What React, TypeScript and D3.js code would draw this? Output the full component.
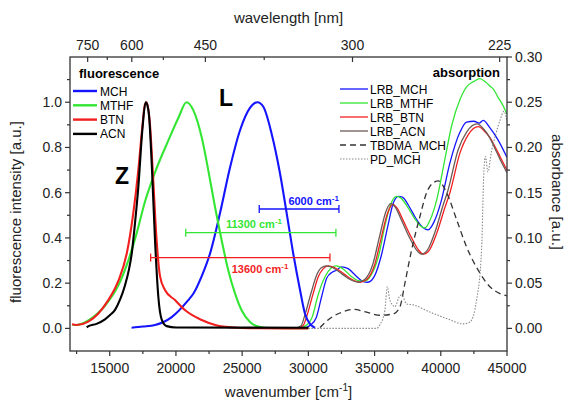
import React from 'react';
import * as d3 from 'd3';

type Pt = [number, number];

// fluorescence spectra [wavenumber cm-1, normalised intensity]
const flMCH: Pt[] = [
  [16650, 0.003], [17500, 0.008], [18420, 0.015], [19680, 0.05], [20930, 0.125], [21310, 0.153],
  [21940, 0.23], [22570, 0.33], [23330, 0.51], [24080, 0.71], [24840, 0.876], [25590, 0.975],
  [26150, 1.0], [26600, 0.98], [27230, 0.86], [27860, 0.685], [28360, 0.51], [28860, 0.33],
  [29370, 0.17], [29740, 0.066], [30120, 0.02], [30350, 0.008], [30500, 0.003],
];
const flMTHF: Pt[] = [
  [12200, 0.015], [12500, 0.015], [13380, 0.035], [14640, 0.1], [15650, 0.19], [16400, 0.3],
  [17030, 0.42], [17660, 0.56], [18420, 0.69], [19420, 0.83], [20180, 0.93], [20800, 1.0],
  [21310, 0.965], [21940, 0.846], [22440, 0.7], [22950, 0.537], [23450, 0.39], [23950, 0.257],
  [24460, 0.155], [24960, 0.08], [25590, 0.028], [26350, 0.006], [27000, 0.002], [30000, 0.001],
];
const flBTN: Pt[] = [
  [12150, 0.018], [12500, 0.015], [13380, 0.03], [14140, 0.066], [14890, 0.125], [15650, 0.21],
  [16280, 0.33], [16780, 0.51], [17160, 0.7], [17460, 0.89], [17660, 0.99], [17790, 1.0],
  [18040, 0.9], [18290, 0.65], [18540, 0.39], [18800, 0.23], [19170, 0.17], [19930, 0.125],
  [20700, 0.08], [21900, 0.038], [23100, 0.013], [24610, 0.003], [26000, 0.001], [30000, 0.0],
];
const flACN: Pt[] = [
  [13260, 0.005], [13400, 0.01], [14000, 0.02], [14640, 0.04], [15000, 0.058], [15400, 0.082],
  [15800, 0.13], [16150, 0.19], [16450, 0.26], [16660, 0.33], [16900, 0.46], [17160, 0.625],
  [17460, 0.875], [17710, 1.0], [17850, 0.985], [17970, 0.94], [18170, 0.73], [18420, 0.39],
  [18670, 0.14], [18920, 0.04], [19300, 0.01], [20000, 0.004], [30000, 0.003],
];

// absorption spectra [wavenumber cm-1, absorbance]
const abMCH: Pt[] = [
  [28000, 0.0], [29500, 0.0], [30200, 0.004], [30600, 0.012], [31000, 0.035], [31400, 0.056],
  [31800, 0.062], [32100, 0.064], [32500, 0.068], [33000, 0.066], [33600, 0.058], [34100, 0.052],
  [34500, 0.051], [35000, 0.058], [35500, 0.08], [36000, 0.113], [36400, 0.138], [36790, 0.146],
  [37100, 0.145], [37600, 0.135], [38100, 0.122], [38600, 0.112], [39050, 0.109], [39500, 0.118],
  [40000, 0.139], [40690, 0.183], [41450, 0.217], [41950, 0.228], [42500, 0.229], [42900, 0.227],
  [43200, 0.23], [43700, 0.222], [44300, 0.209], [45000, 0.189],
];
const abMTHF: Pt[] = [
  [28000, 0.0], [29200, 0.0], [29900, 0.004], [30300, 0.013], [30700, 0.035], [31100, 0.052],
  [31500, 0.063], [32100, 0.069], [32600, 0.066], [33200, 0.058], [33700, 0.053], [34200, 0.052],
  [34700, 0.058], [35300, 0.08], [35800, 0.115], [36300, 0.14], [36670, 0.146], [37000, 0.144],
  [37500, 0.134], [38000, 0.122], [38500, 0.113], [38800, 0.111], [39200, 0.12], [39690, 0.142],
  [40310, 0.187], [40820, 0.224], [41450, 0.253], [41950, 0.267], [42500, 0.273], [42950, 0.276],
  [43400, 0.272], [43710, 0.268], [44000, 0.264], [44300, 0.256], [44600, 0.249], [45000, 0.237],
];
const abBTN: Pt[] = [
  [28000, 0.0], [29000, 0.0], [29600, 0.003], [29870, 0.013], [30370, 0.039], [30750, 0.057],
  [31130, 0.066], [31500, 0.069], [32000, 0.067], [32700, 0.06], [33300, 0.054], [33900, 0.051],
  [34400, 0.054], [35000, 0.07], [35500, 0.1], [36000, 0.128], [36360, 0.137], [36700, 0.133],
  [37200, 0.118], [37800, 0.1], [38300, 0.087], [38680, 0.082], [39200, 0.088], [39690, 0.105],
  [40300, 0.133], [40690, 0.15], [41450, 0.194], [42070, 0.214], [42830, 0.223], [43300, 0.218],
  [43710, 0.211], [44200, 0.198], [44470, 0.19], [45000, 0.175],
];
const abACN: Pt[] = [
  [28000, 0.0], [28850, 0.0], [29450, 0.003], [29720, 0.014], [30220, 0.04], [30600, 0.058],
  [30980, 0.067], [31350, 0.069], [31850, 0.067], [32550, 0.06], [33150, 0.054], [33750, 0.051],
  [34250, 0.054], [34850, 0.07], [35350, 0.1], [35850, 0.129], [36220, 0.138], [36560, 0.134],
  [37050, 0.119], [37650, 0.1], [38150, 0.087], [38550, 0.082], [39050, 0.088], [39550, 0.106],
  [40150, 0.135], [40550, 0.153], [41300, 0.197], [41950, 0.217], [42750, 0.226], [43200, 0.221],
  [43650, 0.212], [44150, 0.197], [44470, 0.187], [45000, 0.172],
];
const abTBDMA: Pt[] = [
  [30880, 0.001], [31630, 0.011], [32390, 0.017], [33390, 0.021], [34400, 0.018], [35400, 0.0145],
  [36410, 0.016], [36920, 0.024], [37290, 0.05], [37800, 0.087], [38430, 0.124], [38930, 0.15],
  [39430, 0.161], [39810, 0.163], [40440, 0.15], [41200, 0.12], [41950, 0.09], [42960, 0.061],
  [43710, 0.046], [44470, 0.0385], [45000, 0.036],
];
const abPD: Pt[] = [
  [30000, 0.0], [35150, 0.0], [35400, 0.004], [35780, 0.02], [35960, 0.046], [36160, 0.031],
  [36540, 0.024], [36860, 0.035], [37040, 0.037], [37420, 0.027], [37920, 0.026], [39180, 0.018],
  [40440, 0.011], [41700, 0.005], [42200, 0.007], [42700, 0.031], [43080, 0.087], [43260, 0.175],
  [43370, 0.19], [43560, 0.173], [43820, 0.195], [44160, 0.215], [44470, 0.23], [44770, 0.24],
  [45000, 0.228],
];

const flNames = ['MCH', 'MTHF', 'BTN', 'ACN'];
const flSeries = [flMCH, flMTHF, flBTN, flACN];
const flColors = ['#1414ff', '#33e633', '#f21f1f', '#000000'];

const abNames = ['LRB_MCH', 'LRB_MTHF', 'LRB_BTN', 'LRB_ACN', 'TBDMA_MCH', 'PD_MCH'];
const abSeries = [abMCH, abMTHF, abBTN, abACN, abTBDMA, abPD];
const abColors = ['#1414ff', '#33e633', '#f21f1f', '#6a5a55', '#333333', '#8a8a8a'];
const abDash = ['', '', '', '', '6,4', '1.5,1.5'];

// Stokes-shift bars: start, end, height (fluorescence units), label
const barStart = [26290, 20740, 18090];
const barEnd = [32310, 32080, 31630];
const barLevel = [0.528, 0.423, 0.313];
const barLabels = ['6000', '11300', '13600'];
const barColors = ['#1414ff', '#33e633', '#f21f1f'];

const xTicks = [15000, 20000, 25000, 30000, 35000, 40000, 45000];
const xMinor = [12500, 17500, 22500, 27500, 32500, 37500, 42500];
const yLTicks = [0, 0.2, 0.4, 0.6, 0.8, 1.0];
const yLMinor = [0.1, 0.3, 0.5, 0.7, 0.9, 1.1];
const yRTicks = [0, 0.05, 0.1, 0.15, 0.2, 0.25, 0.3];
const yRMinor = [0.025, 0.075, 0.125, 0.175, 0.225, 0.275];
const nmTicks = [750, 600, 450, 300, 225];
const nmMinor = [675, 525, 375];

const W = 575;
const H = 403;
const L = 70, R = 507, T = 57, B = 351;
const font = '"Liberation Sans", Arial, sans-serif';
const axisColor = '#333';

export default function App() {
  const x = d3.scaleLinear().domain([12000, 45000]).range([L, R]);
  const yL = d3.scaleLinear().domain([-0.1, 1.2]).range([B, T]);
  const yR = d3.scaleLinear().domain([-0.025, 0.3]).range([B, T]);

  const flLine = d3.line<Pt>().x(d => x(d[0])).y(d => yL(d[1])).curve(d3.curveMonotoneX);
  const abLine = d3.line<Pt>().x(d => x(d[0])).y(d => yR(d[1])).curve(d3.curveMonotoneX);

  const cx = (L + R) / 2;

  return (
    <svg width={W} height={H} style={{ position: 'absolute', left: 0, top: 0, background: '#fff' }}
      fontFamily={font}>
      <defs>
        <clipPath id="plot"><rect x={L} y={T} width={R - L} height={B - T} /></clipPath>
      </defs>

      {/* absorption curves */}
      <g clipPath="url(#plot)">
        {abSeries.map((s, i) => (
          <path key={abNames[i]} d={abLine(s) || ''} fill="none" stroke={abColors[i]}
            strokeWidth={i === 5 ? 1.1 : 1.3} strokeDasharray={abDash[i] || undefined} />
        ))}
        {flSeries.map((s, i) => (
          <path key={flNames[i]} d={flLine(s) || ''} fill="none" stroke={flColors[i]}
            strokeWidth={2.1} strokeLinejoin="round" />
        ))}
      </g>

      {/* Stokes shift bars */}
      {barStart.map((s, i) => {
        const y = yL(barLevel[i]);
        const x0 = x(s), x1 = x(barEnd[i]);
        let tx = x1, anchor = 'end', ty = y - 4;
        if (i === 1) { tx = 254; anchor = 'middle'; ty = y - 5; }
        if (i === 2) { tx = 260; anchor = 'middle'; ty = y + 15; }
        return (
          <g key={barLabels[i]} stroke={barColors[i]} fill={barColors[i]}>
            <line x1={x0} x2={x1} y1={y} y2={y} strokeWidth={1.3} />
            <line x1={x0} x2={x0} y1={y - 4} y2={y + 4} strokeWidth={1.3} />
            <line x1={x1} x2={x1} y1={y - 4} y2={y + 4} strokeWidth={1.3} />
            <text x={tx} y={ty} textAnchor={anchor} stroke="none" fontSize={11} fontWeight="bold">
              {barLabels[i]} cm<tspan fontSize={8} dy={-4}>-1</tspan>
            </text>
          </g>
        );
      })}

      {/* Z and L labels */}
      <text x={122} y={184} textAnchor="middle" fontSize={23} fontWeight="bold">Z</text>
      <text x={226} y={106} textAnchor="middle" fontSize={23} fontWeight="bold">L</text>

      {/* fluorescence legend */}
      <text x={79} y={78} fontSize={13} fontWeight="bold">fluorescence</text>
      {flNames.map((n, i) => (
        <g key={n}>
          <line x1={73} x2={97} y1={91 + i * 14.3} y2={91 + i * 14.3} stroke={flColors[i]} strokeWidth={2.4} />
          <text x={100} y={95.5 + i * 14.3} fontSize={12}>{n}</text>
        </g>
      ))}

      {/* absorption legend */}
      <text x={500} y={77} textAnchor="end" fontSize={13} fontWeight="bold">absorption</text>
      {abNames.map((n, i) => (
        <g key={n}>
          <line x1={340} x2={368} y1={89 + i * 14} y2={89 + i * 14} stroke={abColors[i]}
            strokeWidth={i === 5 ? 1.1 : 1.3} strokeDasharray={abDash[i] || undefined} />
          <text x={370} y={93.5 + i * 14} fontSize={12}>{n}</text>
        </g>
      ))}

      {/* frame */}
      <rect x={L} y={T} width={R - L} height={B - T} fill="none" stroke={axisColor} strokeWidth={1.3} />

      {/* bottom axis */}
      {xTicks.map(t => (
        <g key={t}>
          <line x1={x(t)} x2={x(t)} y1={B} y2={B + 5} stroke={axisColor} strokeWidth={1.2} />
          <text x={x(t)} y={B + 22} textAnchor="middle" fontSize={14} fill="#222">{t}</text>
        </g>
      ))}
      {xMinor.map(t => (
        <line key={t} x1={x(t)} x2={x(t)} y1={B} y2={B + 3} stroke={axisColor} strokeWidth={1.2} />
      ))}
      <text x={cx} y={397} textAnchor="middle" fontSize={15} fill="#222">
        wavenumber [cm<tspan fontSize={10} dy={-6}>-1</tspan><tspan dy={6}>]</tspan>
      </text>

      {/* top axis */}
      {nmTicks.map(t => (
        <g key={t}>
          <line x1={x(1e7 / t)} x2={x(1e7 / t)} y1={T} y2={T + 5} stroke={axisColor} strokeWidth={1.2} />
          <text x={x(1e7 / t)} y={T - 7} textAnchor="middle" fontSize={14} fill="#222">{t}</text>
        </g>
      ))}
      {nmMinor.map(t => (
        <line key={t} x1={x(1e7 / t)} x2={x(1e7 / t)} y1={T} y2={T + 3} stroke={axisColor} strokeWidth={1.2} />
      ))}
      <text x={cx} y={23} textAnchor="middle" fontSize={15} fill="#222">wavelength [nm]</text>

      {/* left axis */}
      {yLTicks.map(t => (
        <g key={t}>
          <line x1={L - 5} x2={L} y1={yL(t)} y2={yL(t)} stroke={axisColor} strokeWidth={1.2} />
          <text x={L - 8} y={yL(t) + 5} textAnchor="end" fontSize={14} fill="#222">{t.toFixed(1)}</text>
        </g>
      ))}
      {yLMinor.map(t => (
        <line key={t} x1={L - 3} x2={L} y1={yL(t)} y2={yL(t)} stroke={axisColor} strokeWidth={1.2} />
      ))}
      <text transform={`translate(21,${(T + B) / 2 + 8}) rotate(-90)`} textAnchor="middle" fontSize={15} fill="#222">
        fluorescence intensity [a.u.]
      </text>

      {/* right axis */}
      {yRTicks.map(t => (
        <g key={t}>
          <line x1={R} x2={R + 5} y1={yR(t)} y2={yR(t)} stroke={axisColor} strokeWidth={1.2} />
          <text x={R + 8} y={yR(t) + 5} fontSize={14} fill="#222">{t.toFixed(2)}</text>
        </g>
      ))}
      {yRMinor.map(t => (
        <line key={t} x1={R} x2={R + 3} y1={yR(t)} y2={yR(t)} stroke={axisColor} strokeWidth={1.2} />
      ))}
      <text transform={`translate(552,${(T + B) / 2 - 12}) rotate(90)`} textAnchor="middle" fontSize={15} fill="#222">
        absorbance [a.u.]
      </text>
    </svg>
  );
}
